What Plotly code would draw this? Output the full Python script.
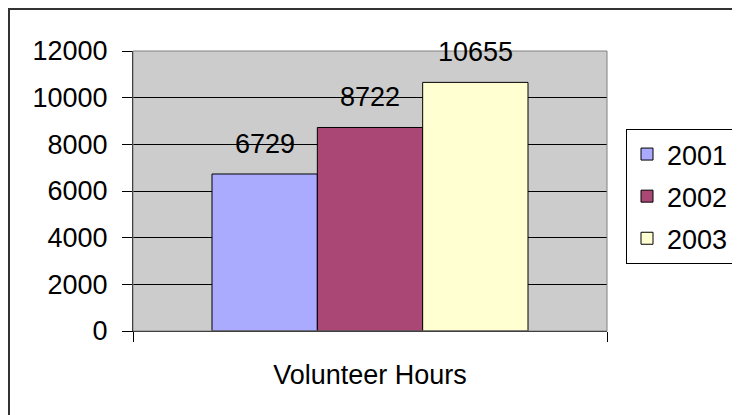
import plotly.graph_objects as go

categories = ["Volunteer Hours"]
years = ["2001", "2002", "2003"]
hours = [6729, 8722, 10655]
colors = ["#AAAAFF", "#AA4774", "#FFFFD2"]
y_ticks = [0, 2000, 4000, 6000, 8000, 10000, 12000]

# page body has an 8px margin, so the figure is offset by 8px
OFF = 8
W, H = 740 - OFF, 415 - OFF
L, T = 133 - OFF, 51 - OFF
plot_w, plot_h = 474, 280
R = W - L - plot_w
B = H - T - plot_h
BARGAP = 1 - 316 / 474
FONT = "Liberation Sans, Arial, sans-serif"

fig = go.Figure()
for name, v, c in zip(years, hours, colors):
    fig.add_trace(go.Bar(
        x=categories, y=[v], name=name, legendgroup=name,
        marker=dict(color=c, line=dict(color="#000000", width=1)),
    ))

bar_w = plot_w * (1 - BARGAP) / len(years)
for i, v in enumerate(hours):
    fig.add_annotation(
        x=categories[0], y=v, xref="x", yref="y", text=str(v), showarrow=False,
        xshift=(i - (len(years) - 1) / 2) * bar_w, yshift=30, yanchor="middle",
        font=dict(size=27, color="#000000", family=FONT),
    )

# plot-area border (grey) and outer chart frame
fig.add_shape(type="rect", xref="paper", yref="paper", x0=0, x1=1, y0=0, y1=1,
              line=dict(color="#808080", width=1), layer="above")
fig.add_shape(type="rect", xref="paper", yref="paper",
              x0=(OFF + 1 - 133) / plot_w, x1=2, y0=-1, y1=(331 - OFF - 1) / plot_h,
              line=dict(color="#333333", width=2), layer="above")

fig.update_layout(
    width=W, height=H,
    margin=dict(l=L, r=R, t=T, b=B, pad=0, autoexpand=False),
    paper_bgcolor="#FFFFFF", plot_bgcolor="#CCCCCC",
    barmode="group", bargap=BARGAP, bargroupgap=0,
    font=dict(family=FONT, size=27, color="#000000"),
    showlegend=True,
    legend=dict(
        x=(626 - 133) / plot_w, xanchor="left",
        y=(331 - 129) / plot_h, yanchor="top",
        bgcolor="#FFFFFF", bordercolor="#000000", borderwidth=1,
        font=dict(size=27, family=FONT),
        itemwidth=30, tracegroupgap=4,
    ),
)
fig.update_yaxes(
    range=[0, 12000], tickvals=y_ticks, ticktext=[str(t) for t in y_ticks],
    showgrid=True, gridcolor="#000000", gridwidth=1,
    showline=True, linecolor="#000000", linewidth=1,
    ticks="outside", ticklen=10, tickcolor="#000000",
    tickfont=dict(size=27, family=FONT), ticklabelstandoff=9,
    zeroline=False, automargin=False,
)
fig.update_xaxes(
    type="category", showgrid=False,
    showline=True, linecolor="#000000", linewidth=1,
    ticks="outside", ticklen=10, tickcolor="#000000", tickson="boundaries",
    tickfont=dict(size=27, family=FONT), ticklabelstandoff=20,
    automargin=False,
)

fig.write_html("out.html")
